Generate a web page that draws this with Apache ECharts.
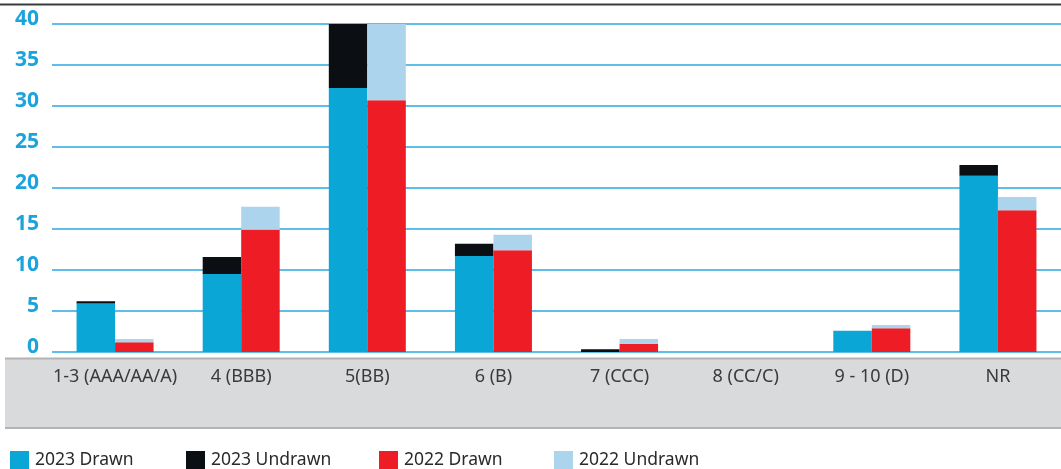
<!DOCTYPE html>
<html><head><meta charset="utf-8">
<script src="https://cdn.jsdelivr.net/npm/echarts@6/dist/echarts.min.js"></script>
<style>html,body{margin:0;padding:0;background:#fff}#c{width:1061px;height:469px}</style>
</head><body><div id="c"></div>
<script>
const categories = ['1-3 (AAA/AA/A)', '4 (BBB)', '5(BB)', '6 (B)', '7 (CCC)', '8 (CC/C)', '9 - 10 (D)', 'NR'];
const drawn2023 =   [5.9, 9.5, 32.2, 11.7, 0,   0, 2.6, 21.5];
const undrawn2023 = [0.3, 2.1, 7.8,  1.5,  0.35, 0, 0,   1.3];
const drawn2022 =   [1.2, 14.9, 30.7, 12.4, 1.0, 0, 2.9, 17.3];
const undrawn2022 = [0.4, 2.8, 9.3,  1.9,  0.6, 0, 0.4, 1.6];
const yTicks = [0, 5, 10, 15, 20, 25, 30, 35, 40];
const seriesNames = ['2023 Drawn', '2023 Undrawn', '2022 Drawn', '2022 Undrawn'];
const colors = ['#0aa7d6', '#0b0e12', '#ee1c25', '#acd4ec'];

const chart = echarts.init(document.getElementById('c'), null, {renderer: 'canvas'});
const legendX = [5, 181, 374, 549];
const textFont = '"Noto Sans", "Open Sans", sans-serif';
const mk = (name, data, stack, i) => ({
  name, type: 'bar', stack, data, barWidth: 38.5, barGap: '0%',
  itemStyle: {color: colors[i]}, z: 3
});
chart.setOption({
  animation: false,
  grid: {left: 52, right: 0, top: 24, bottom: 117, containLabel: false},
  xAxis: {
    type: 'category', data: categories,
    axisLine: {show: false}, axisTick: {show: false},
    axisLabel: {color: '#3a3a3a', fontSize: 18, margin: 16, interval: 0,
      fontFamily: textFont}
  },
  yAxis: {
    type: 'value', min: 0, max: 40, interval: 5,
    axisLine: {show: false}, axisTick: {show: false},
    axisLabel: {color: '#1aa3dc', fontSize: 21, fontWeight: 'bold', margin: 13,
      verticalAlign: 'bottom', lineHeight: 10, fontFamily: '"Open Sans", sans-serif',
      formatter: v => yTicks.includes(v) ? String(v) : ''},
    splitLine: {lineStyle: {color: '#29a8e0', width: 1.5}}
  },
  legend: seriesNames.map((n, i) => ({
    data: [n], left: legendX[i], top: 446, icon: 'rect', itemWidth: 19, itemHeight: 19,
    itemGap: 10, textStyle: {fontSize: 17.5, color: '#2a2a2a', fontFamily: textFont, padding: [0,0,0,1]},
    selectedMode: false
  })),
  graphic: [
    {type: 'rect', z: -10, shape: {x: 5, y: 358, width: 1056, height: 70},
      style: {fill: '#d9dadc'}},
    {type: 'line', z: -9, shape: {x1: 5, y1: 358.5, x2: 1061, y2: 358.5},
      style: {stroke: '#b3b3b3', lineWidth: 2}},
    {type: 'line', z: -9, shape: {x1: 5, y1: 428, x2: 1061, y2: 428},
      style: {stroke: '#b3b3b3', lineWidth: 2}},
    {type: 'line', z: -9, shape: {x1: 0, y1: 4.5, x2: 1061, y2: 4.5},
      style: {stroke: '#3a3a3a', lineWidth: 2}}
  ],
  series: [
    mk(seriesNames[0], drawn2023, 'a', 0),
    mk(seriesNames[1], undrawn2023, 'a', 1),
    mk(seriesNames[2], drawn2022, 'b', 2),
    mk(seriesNames[3], undrawn2022, 'b', 3)
  ]
});
</script></body></html>
